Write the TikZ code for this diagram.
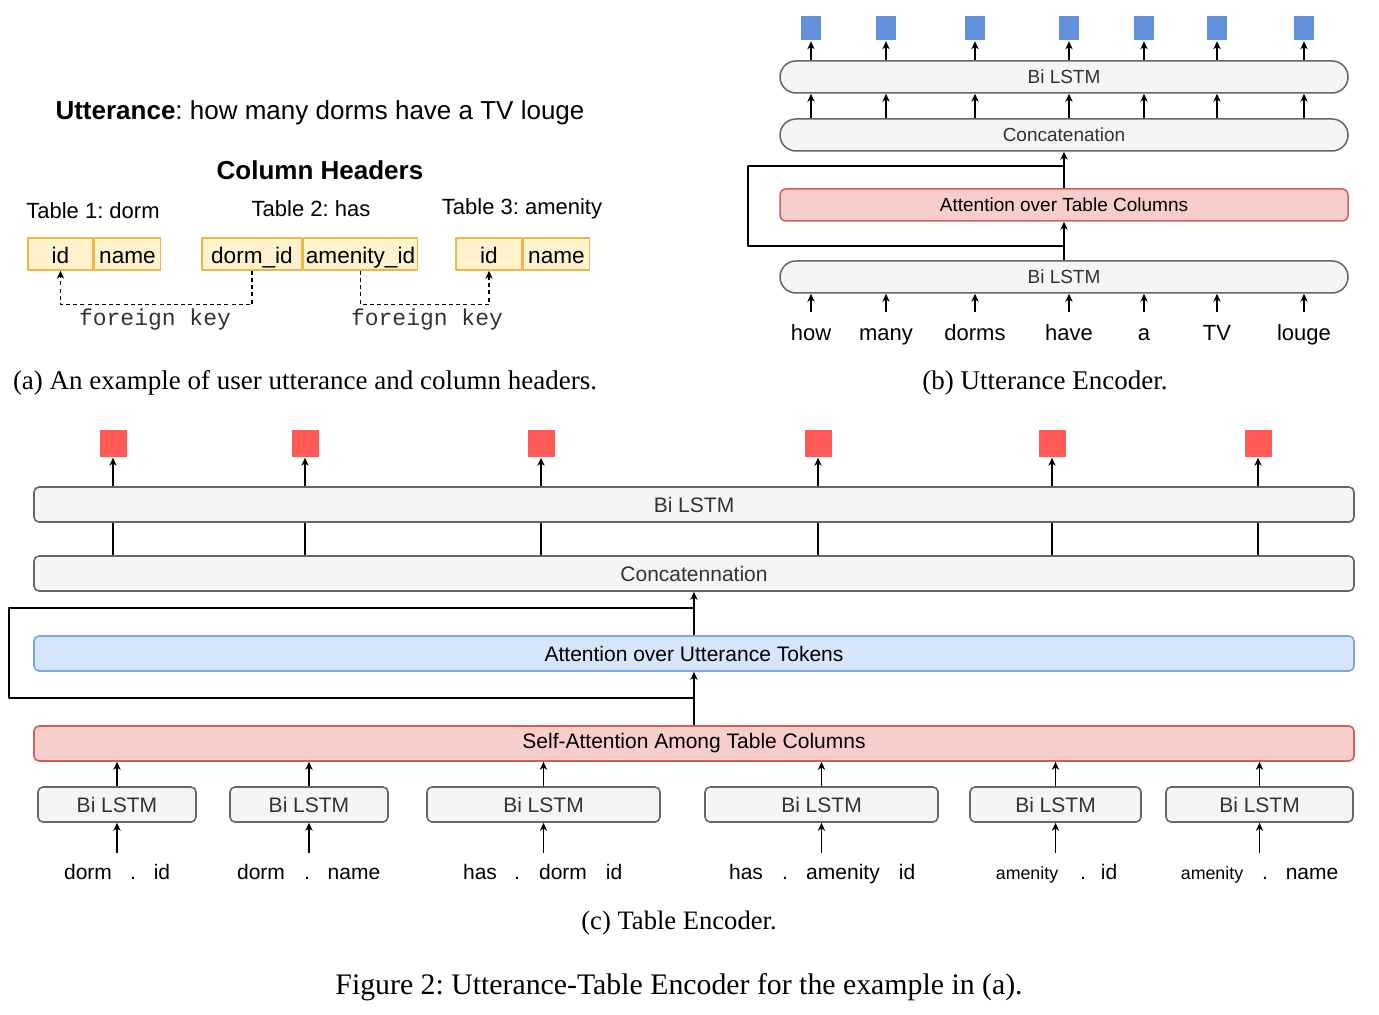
\documentclass[tikz,border=0pt]{standalone}
\usepackage{fontspec}
\setmainfont{Liberation Serif}
\setsansfont{Liberation Sans}
\setmonofont{Liberation Mono}
\frenchspacing
\usetikzlibrary{positioning,arrows.meta}
\definecolor{boxgray}{HTML}{F5F5F5}
\definecolor{boxline}{HTML}{666666}
\definecolor{txtgray}{HTML}{333333}
\definecolor{redfill}{HTML}{F8CECC}
\definecolor{redline}{HTML}{D45F5A}
\definecolor{bluefill}{HTML}{D5E6FC}
\definecolor{blueline}{HTML}{7EA6E0}
\definecolor{cellfill}{HTML}{FFF2CC}
\definecolor{cellline}{HTML}{E8B949}
\definecolor{sqblue}{HTML}{6391DB}
\definecolor{sqred}{HTML}{FF5A55}
\begin{document}
\begin{tikzpicture}[x=0.5pt,y=-0.5pt,line join=round,>={Stealth[length=4pt,width=3.6pt,inset=1.2pt]},line width=0.75pt,
	pill/.style={draw=boxline,fill=boxgray,rounded corners=8pt,minimum width=284pt,minimum height=16pt,inner sep=0pt,text=txtgray,font=\sffamily\fontsize{9.5}{11}\selectfont},
	band/.style={draw=boxline,fill=boxgray,rounded corners=2.5pt,minimum width=660pt,minimum height=17.5pt,inner sep=0pt,text=txtgray,font=\sffamily\fontsize{10.5}{12}\selectfont,line width=0.8pt},
	smallbox/.style={band,minimum width=#1},
	redbox/.style={fill=redfill,draw=redline},
	bluebox/.style={fill=bluefill,draw=blueline},
	cell/.style={draw=cellline,fill=cellfill,minimum height=16pt,inner sep=0pt,text height=9.5pt,text depth=0pt,font=\sffamily\fontsize{11.3}{13}\selectfont},
	sqb/.style={fill=sqblue,minimum width=10pt,minimum height=12pt,inner sep=0pt},
	sqr/.style={fill=sqred,minimum width=13.5pt,minimum height=13.5pt,inner sep=0pt},
	wordb/.style={anchor=base,font=\sffamily\fontsize{11}{13}\selectfont,text height=8pt,text depth=2pt,inner ysep=6pt},
	wordc/.style={anchor=base,font=\sffamily\fontsize{10.5}{12}\selectfont},
	lbl/.style={font=\sffamily\fontsize{11}{13}\selectfont},
	fk/.style={dashed,dash pattern=on 2pt off 1.6pt,line width=0.6pt},
	capt/.style={font=\rmfamily\fontsize{13.5}{15}\selectfont}]
	\useasboundingbox (0,0) rectangle (1379,1015);
	% (a) utterance and column headers
	\node[font=\sffamily\fontsize{13}{15}\selectfont] (utt) at (320,113) {\textbf{Utterance}: how many dorms have a TV louge};
	\node[font=\sffamily\bfseries\fontsize{13}{15}\selectfont] (colhead) at (320,170) {Column Headers};
	\node[lbl] (tab1) at (93,211) {Table 1: dorm};
	\node[lbl] (tab2) at (311,209) {Table 2: has};
	\node[lbl] (tab3) at (522,209) {Table 3: amenity};
	\node[cell,minimum width=32.5pt] (id1) at (60.5,254) {id};
	\node[cell,minimum width=33pt,right=0pt of id1] (name1) {name};
	\node[cell,minimum width=50pt] (dormid) at (252,254) {dorm\_id};
	\node[cell,minimum width=57pt,right=0pt of dormid] (amenid) {amenity\_id};
	\node[cell,minimum width=33pt] (id3) at (489,254) {id};
	\node[cell,minimum width=33pt,right=0pt of id3] (name3) {name};
	\draw[fk,->] (dormid.south) -- ++(0,34) -| (id1.south);
	\draw[fk,->] (amenid.south) -- ++(0,34) -| (id3.south);
	\node[font=\ttfamily\fontsize{11.5}{13}\selectfont,text=txtgray] (fk1) at (155,320) {foreign key};
	\node[font=\ttfamily\fontsize{11.5}{13}\selectfont,text=txtgray] (fk2) at (427,320) {foreign key};
	\node[capt] (capa) at (305,383) {(a) An example of user utterance and column headers.};
	% (b) utterance encoder
	\node[pill] (lstmT) at (1064,77) {Bi LSTM};
	\node[pill] (concat) at (1064,135) {Concatenation};
	\node[pill,redbox,rounded corners=3pt] (attT) at (1064,205) {\color{black}Attention over Table Columns};
	\node[pill] (lstmB) at (1064,277) {Bi LSTM};
	\foreach \x/\w [count=\i] in {811/how,886/many,975/dorms,1069/have,1144/a,1217/TV,1304/louge}{
		\node[wordb] (u\i) at (\x,341) {\w};
		\node[sqb] (b\i) at (\x,28.5) {};
		\draw[->] (u\i.north) -- (u\i.north |- lstmB.south);
		\draw[->] (b\i |- concat.north) -- (b\i |- lstmT.south);
		\draw[->] (b\i |- lstmT.north) -- (b\i.south);
	}
	\draw[->] (lstmB.north) -- (attT.south);
	\draw[->] (attT.north) -- (concat.south);
	\coordinate (loopB1) at (748,246);
	\coordinate (loopB2) at (748,166);
	\draw (lstmB.north |- loopB1) -- (loopB1) -- (loopB2) -- (loopB2 -| concat.south);
	\node[capt] (capb) at (1045,383) {(b) Utterance Encoder.};
	% (c) table encoder
	\node[band] (lstmC) at (694,504.5) {Bi LSTM};
	\node[band] (concatC) at (694,573.5) {Concatennation};
	\node[band,bluebox] (attU) at (694,653.5) {\color{black}Attention over Utterance Tokens};
	\node[band,redbox] (selfatt) at (694,743.5) {\color{black}Self-Attention Among Table Columns};
	\foreach \x [count=\i] in {113,305,541,818,1052,1258}{
		\node[sqr] (r\i) at (\x,443.5) {};
		\draw[->] (r\i |- lstmC.north) -- (r\i.south);
		\draw (r\i |- concatC.north) -- (r\i |- lstmC.south);
	}
	\foreach \x/\bw [count=\i] in {117/79pt,309/79pt,543.5/116.5pt,821.5/116.5pt,1055.5/85.5pt,1259.5/93.5pt}{
		\node[smallbox=\bw] (s\i) at (\x,804.5) {Bi LSTM};
		\coordinate (in\i) at (\x,853);
		\draw[->] (in\i) -- (s\i.south);
		\draw[->] (s\i.north) -- (s\i.north |- selfatt.south);
	}
	\foreach \x/\w [count=\i] in {88/dorm,133/.,162/id,261/dorm,307/.,354/name,480/has,517/.,563/dorm,614/id,746/has,785/.,843/amenity,907/id,1083/.,1109/id,1265/.,1312/name}
		\node[wordc] (t\i) at (\x,879) {\w};
	\node[wordc,font=\sffamily\fontsize{8.9}{10}\selectfont] (am1) at (1027,879) {amenity};
	\node[wordc,font=\sffamily\fontsize{8.9}{10}\selectfont] (am2) at (1212,879) {amenity};
	\draw[->] (selfatt.north) -- (attU.south);
	\draw[->] (attU.north) -- (concatC.south);
	\coordinate (loopC1) at (9,698);
	\coordinate (loopC2) at (9,608);
	\draw (selfatt.north |- loopC1) -- (loopC1) -- (loopC2) -- (loopC2 -| concatC.south);
	\node[capt,font=\rmfamily\fontsize{13.3}{15}\selectfont] (capc) at (679,923) {(c) Table Encoder.};
	\node[capt,font=\rmfamily\fontsize{14.9}{17}\selectfont] (fig) at (679,987) {Figure 2: Utterance-Table Encoder for the example in (a).};
\end{tikzpicture}
\end{document}
